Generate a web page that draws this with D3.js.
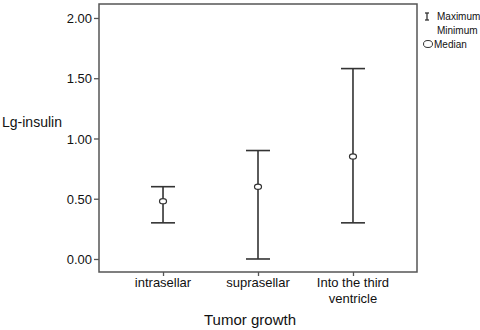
<!DOCTYPE html>
<html><head><meta charset="utf-8">
<script src="https://cdn.jsdelivr.net/npm/d3@7"></script>
<style>body{margin:0;background:#fff}svg{display:block}text{font-family:"Liberation Sans",Arial,sans-serif;fill:#111}</style>
</head><body><svg id="c" width="480" height="330"></svg>
<script>
const categories = ["intrasellar", "suprasellar", "Into the third|ventricle"];
const maxima = [0.60, 0.90, 1.58];
const minima = [0.30, 0.00, 0.30];
const medians = [0.48, 0.60, 0.85];
const yTicks = [0, 0.5, 1.0, 1.5, 2.0];
const data = categories.map((c, i) => ({c, max: maxima[i], min: minima[i], med: medians[i]}));

const svg = d3.select("#c");
const L = 99, R = 417, T = 4, B = 272;
const x = d3.scalePoint().domain(categories).range([L, R]).padding(0.674);
const y = d3.scaleLinear().domain([-0.108, 2.116]).range([B, T]);

svg.append("rect").attr("x", L).attr("y", T).attr("width", R - L).attr("height", B - T)
  .attr("fill", "none").attr("stroke", "#555").attr("stroke-width", 1.5);

const ya = svg.append("g").attr("transform", `translate(${L},0)`)
  .call(d3.axisLeft(y).tickValues(yTicks).tickFormat(d3.format(".2f")).tickSize(5).tickPadding(2));
ya.select(".domain").remove();
ya.selectAll("line").attr("stroke", "#555").attr("stroke-width", 1.3);
ya.selectAll("text").attr("font-size", 13).attr("fill", "#111").attr("font-family", "Liberation Sans, Arial, sans-serif").attr("dy", "0.35em");

const xa = svg.append("g").attr("transform", `translate(0,${B})`)
  .call(d3.axisBottom(x).tickSize(4).tickFormat(""));
xa.select(".domain").remove();
xa.selectAll("line").attr("stroke", "#555").attr("stroke-width", 1.3);
categories.forEach(c => {
  const t = svg.append("text").attr("x", x(c)).attr("y", 287).attr("text-anchor", "middle").attr("font-size", 13);
  c.split("|").forEach((s, i) => t.append("tspan").attr("x", x(c)).attr("dy", i ? 16 : 0).text(s));
});

const g = svg.append("g").selectAll("g").data(data).join("g");
g.append("line").attr("x1", d => x(d.c)).attr("x2", d => x(d.c)).attr("y1", d => y(d.max)).attr("y2", d => y(d.min))
  .attr("stroke", "#333").attr("stroke-width", 1.6);
g.append("line").attr("x1", d => x(d.c) - 12).attr("x2", d => x(d.c) + 12).attr("y1", d => y(d.max)).attr("y2", d => y(d.max))
  .attr("stroke", "#333").attr("stroke-width", 1.6);
g.append("line").attr("x1", d => x(d.c) - 12).attr("x2", d => x(d.c) + 12).attr("y1", d => y(d.min)).attr("y2", d => y(d.min))
  .attr("stroke", "#333").attr("stroke-width", 1.6);
g.append("ellipse").attr("cx", d => x(d.c)).attr("cy", d => y(d.med)).attr("rx", 3.5).attr("ry", 2.6)
  .attr("fill", "#fff").attr("stroke", "#333").attr("stroke-width", 1.2);

svg.append("text").attr("x", 2).attr("y", 127).attr("font-size", 14).text("Lg-insulin");
svg.append("text").attr("x", 250).attr("y", 325).attr("text-anchor", "middle").attr("font-size", 15).text("Tumor growth");

// legend
const lg = svg.append("g").attr("font-size", 10);
lg.append("line").attr("x1", 427).attr("x2", 427).attr("y1", 13).attr("y2", 20).attr("stroke", "#333").attr("stroke-width", 1.3);
lg.append("line").attr("x1", 425).attr("x2", 429).attr("y1", 13).attr("y2", 13).attr("stroke", "#333").attr("stroke-width", 1.3);
lg.append("line").attr("x1", 425).attr("x2", 429).attr("y1", 20).attr("y2", 20).attr("stroke", "#333").attr("stroke-width", 1.3);
lg.append("text").attr("x", 437).attr("y", 20).text("Maximum");
lg.append("text").attr("x", 437).attr("y", 34).text("Minimum");
lg.append("ellipse").attr("cx", 428).attr("cy", 44).attr("rx", 4.5).attr("ry", 3.5).attr("fill", "#fff").attr("stroke", "#333").attr("stroke-width", 1);
lg.append("text").attr("x", 434).attr("y", 48).text("Median");
</script></body></html>
